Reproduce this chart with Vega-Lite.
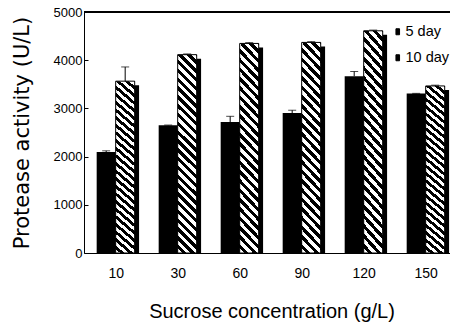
{
  "$schema": "https://vega.github.io/schema/vega-lite/v6.json",
  "autosize": "none",
  "width": 366,
  "height": 241,
  "padding": {"left": 84, "top": 12, "right": 0, "bottom": 75},
  "background": "white",
  "config": {
    "view": {"stroke": null},
    "font": "Liberation Sans",
    "axis": {"domainColor": "black", "tickColor": "black", "labelColor": "black", "titleColor": "black", "grid": false, "titleFontWeight": "normal", "labelFont": "Liberation Sans"}
  },
  "resolve": {"scale": {"xOffset": "independent"}},
  "data": {
    "values": [
      {"conc": "10", "day": "5 day", "value": 2095, "hi": 2120},
      {"conc": "10", "day": "10 day", "value": 3565, "hi": 3860},
      {"conc": "30", "day": "5 day", "value": 2648, "hi": 2655},
      {"conc": "30", "day": "10 day", "value": 4115, "hi": 4130},
      {"conc": "60", "day": "5 day", "value": 2717, "hi": 2836},
      {"conc": "60", "day": "10 day", "value": 4348, "hi": 4365},
      {"conc": "90", "day": "5 day", "value": 2904, "hi": 2962},
      {"conc": "90", "day": "10 day", "value": 4369, "hi": 4385},
      {"conc": "120", "day": "5 day", "value": 3668, "hi": 3765},
      {"conc": "120", "day": "10 day", "value": 4610, "hi": 4625},
      {"conc": "150", "day": "5 day", "value": 3308, "hi": 3312},
      {"conc": "150", "day": "10 day", "value": 3466, "hi": 3482}
    ]
  },
  "encoding": {
    "x": {
      "field": "conc", "type": "nominal", "sort": ["10", "30", "60", "90", "120", "150"],
      "scale": {"paddingInner": 0.387, "paddingOuter": 0.145, "align": 0.705},
      "axis": {
        "title": "Sucrose concentration (g/L)", "titleFont": "Liberation Sans", "titleFontSize": 20,
        "titleX": 187.5, "titleY": 64, "titleBaseline": "alphabetic", "titleAlign": "center",
        "labelAngle": 0, "labelFontSize": 14, "labelPadding": 18, "tickSize": -5, "tickBand": "extent", "tickWidth": 1
      }
    },
    "xOffset": {"field": "day", "type": "nominal", "scale": {"domain": ["5 day", "10 day"], "paddingInner": 0, "paddingOuter": 0}},
    "y": {
      "field": "value", "type": "quantitative",
      "scale": {"domain": [0, 5000], "nice": false},
      "axis": {
        "title": "Protease activity (U/L)", "titleFont": "DejaVu Sans", "titleFontSize": 21,
        "titleX": -56, "titleY": 120.5, "titleAngle": -90, "titleBaseline": "alphabetic", "titleAlign": "center",
        "values": [0, 1000, 2000, 3000, 4000, 5000], "format": "d", "labelFontSize": 13, "tickSize": -4, "labelPadding": 6
      }
    }
  },
  "layer": [
    {
      "mark": {"type": "bar", "fill": "black", "yOffset": 4, "clip": true},
      "encoding": {
        "xOffset": {"field": "day", "type": "nominal", "scale": {"domain": ["5 day", "10 day"], "range": [4, 42.4], "paddingInner": 0, "paddingOuter": 0}}
      }
    },
    {
      "transform": [{"filter": "datum.day === '5 day'"}],
      "mark": {"type": "bar"},
      "encoding": {
        "color": {
          "field": "day", "type": "nominal",
          "scale": {"domain": ["5 day", "10 day"], "range": ["black", "black"]},
          "legend": {
            "title": null, "orient": "none", "legendX": 306.5, "legendY": 12.5,
            "symbolType": "M-0.3,-0.5H0.3V0.5H-0.3Z", "symbolSize": 144, "symbolStrokeWidth": 1, "symbolStrokeColor": "black",
            "labelFontSize": 14.5, "labelFont": "Liberation Sans", "labelColor": "black", "labelOffset": 0.5,
            "rowPadding": 11, "padding": 0,
            "encode": {"symbols": {"update": {
              "fill": {"signal": "datum.value === '10 day' ? {gradient: 'linear', x1: 0, y1: 1, x2: 0.72, y2: -0.2, stops: [{offset: 0, color: 'black'}, {offset: 0.22, color: 'black'}, {offset: 0.22, color: 'white'}, {offset: 0.42, color: 'white'}, {offset: 0.42, color: 'black'}, {offset: 0.6, color: 'black'}, {offset: 0.6, color: 'white'}, {offset: 1, color: 'white'}]} : 'black'"},
              "stroke": {"value": "black"}, "strokeWidth": {"value": 1}, "opacity": {"value": 1}}}}
          }
        }
      }
    },
    {
      "transform": [{"filter": "datum.day === '10 day'"}],
      "mark": {
        "type": "bar", "stroke": "black", "strokeWidth": 1,
        "fill": {"gradient": "linear", "x1": 0, "y1": 1, "x2": 0.105, "y2": -0.1, "stops": [
          {"offset": 0, "color": "white"}, {"offset": 0.02, "color": "white"},
          {"offset": 0.02, "color": "black"}, {"offset": 0.04, "color": "black"},
          {"offset": 0.04, "color": "white"}, {"offset": 0.06, "color": "white"},
          {"offset": 0.06, "color": "black"}, {"offset": 0.08, "color": "black"},
          {"offset": 0.08, "color": "white"}, {"offset": 0.10, "color": "white"},
          {"offset": 0.10, "color": "black"}, {"offset": 0.12, "color": "black"},
          {"offset": 0.12, "color": "white"}, {"offset": 0.14, "color": "white"},
          {"offset": 0.14, "color": "black"}, {"offset": 0.16, "color": "black"},
          {"offset": 0.16, "color": "white"}, {"offset": 0.18, "color": "white"},
          {"offset": 0.18, "color": "black"}, {"offset": 0.20, "color": "black"},
          {"offset": 0.20, "color": "white"}, {"offset": 0.22, "color": "white"},
          {"offset": 0.22, "color": "black"}, {"offset": 0.24, "color": "black"},
          {"offset": 0.24, "color": "white"}, {"offset": 0.26, "color": "white"},
          {"offset": 0.26, "color": "black"}, {"offset": 0.28, "color": "black"},
          {"offset": 0.28, "color": "white"}, {"offset": 0.30, "color": "white"},
          {"offset": 0.30, "color": "black"}, {"offset": 0.32, "color": "black"},
          {"offset": 0.32, "color": "white"}, {"offset": 0.34, "color": "white"},
          {"offset": 0.34, "color": "black"}, {"offset": 0.36, "color": "black"},
          {"offset": 0.36, "color": "white"}, {"offset": 0.38, "color": "white"},
          {"offset": 0.38, "color": "black"}, {"offset": 0.40, "color": "black"},
          {"offset": 0.40, "color": "white"}, {"offset": 0.42, "color": "white"},
          {"offset": 0.42, "color": "black"}, {"offset": 0.44, "color": "black"},
          {"offset": 0.44, "color": "white"}, {"offset": 0.46, "color": "white"},
          {"offset": 0.46, "color": "black"}, {"offset": 0.48, "color": "black"},
          {"offset": 0.48, "color": "white"}, {"offset": 0.50, "color": "white"},
          {"offset": 0.50, "color": "black"}, {"offset": 0.52, "color": "black"},
          {"offset": 0.52, "color": "white"}, {"offset": 0.54, "color": "white"},
          {"offset": 0.54, "color": "black"}, {"offset": 0.56, "color": "black"},
          {"offset": 0.56, "color": "white"}, {"offset": 0.58, "color": "white"},
          {"offset": 0.58, "color": "black"}, {"offset": 0.60, "color": "black"},
          {"offset": 0.60, "color": "white"}, {"offset": 0.62, "color": "white"},
          {"offset": 0.62, "color": "black"}, {"offset": 0.64, "color": "black"},
          {"offset": 0.64, "color": "white"}, {"offset": 0.66, "color": "white"},
          {"offset": 0.66, "color": "black"}, {"offset": 0.68, "color": "black"},
          {"offset": 0.68, "color": "white"}, {"offset": 0.70, "color": "white"},
          {"offset": 0.70, "color": "black"}, {"offset": 0.72, "color": "black"},
          {"offset": 0.72, "color": "white"}, {"offset": 0.74, "color": "white"},
          {"offset": 0.74, "color": "black"}, {"offset": 0.76, "color": "black"},
          {"offset": 0.76, "color": "white"}, {"offset": 0.78, "color": "white"},
          {"offset": 0.78, "color": "black"}, {"offset": 0.80, "color": "black"},
          {"offset": 0.80, "color": "white"}, {"offset": 0.82, "color": "white"},
          {"offset": 0.82, "color": "black"}, {"offset": 0.84, "color": "black"},
          {"offset": 0.84, "color": "white"}, {"offset": 0.86, "color": "white"},
          {"offset": 0.86, "color": "black"}, {"offset": 0.88, "color": "black"},
          {"offset": 0.88, "color": "white"}, {"offset": 0.90, "color": "white"},
          {"offset": 0.90, "color": "black"}, {"offset": 0.92, "color": "black"},
          {"offset": 0.92, "color": "white"}, {"offset": 0.94, "color": "white"},
          {"offset": 0.94, "color": "black"}, {"offset": 0.96, "color": "black"},
          {"offset": 0.96, "color": "white"}, {"offset": 0.98, "color": "white"},
          {"offset": 0.98, "color": "black"}, {"offset": 1, "color": "black"}
        ]}
      }
    },
    {
      "mark": {"type": "rule", "color": "black", "strokeWidth": 1},
      "encoding": {"y2": {"field": "hi"}}
    },
    {
      "mark": {"type": "tick", "color": "black", "thickness": 1, "size": 8, "orient": "horizontal"},
      "encoding": {"y": {"field": "hi", "type": "quantitative"}}
    },
    {
      "mark": {"type": "rule", "color": "black", "strokeWidth": 1},
      "encoding": {"y": {"datum": 5000}, "x": {"value": 0}, "x2": {"value": 366}, "xOffset": null}
    }
  ]
}
